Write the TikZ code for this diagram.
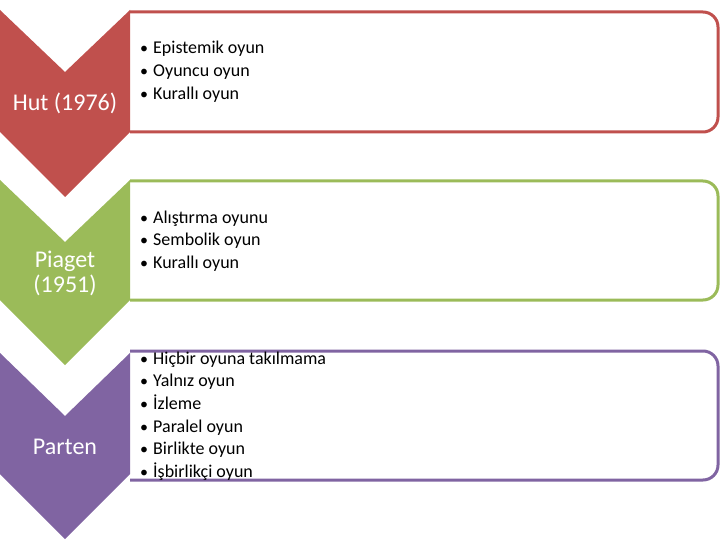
\documentclass[tikz,border=0pt]{standalone}
\usepackage{fontspec}
\setmainfont{Carlito}
\definecolor{cred}{HTML}{C0504D}
\definecolor{cgreen}{HTML}{9BBB59}
\definecolor{cpurple}{HTML}{8064A2}
\tikzset{
  listbox/.style={line width=3pt, fill=white, rounded corners=15pt},
  lbl/.style={anchor=base, inner sep=0pt, text=white, font=\fontsize{24}{25}\selectfont},
  item/.style={anchor=base west, inner sep=0pt, text=black, font=\fontsize{18}{22}\selectfont}
}
\newcommand{\bul}[1]{\makebox[13pt][l]{\fontsize{16}{16}\selectfont•}#1}
\begin{document}
\begin{tikzpicture}[x=1pt,y=-1pt]
\useasboundingbox (0,0) rectangle (720,540);
% boxes
\draw[listbox, draw=cred] (130,12) -- (718,12) -- (718,132) -- (130,132);
\draw[listbox, draw=cgreen] (130,181) -- (718,181) -- (718,300) -- (130,300);
\draw[listbox, draw=cpurple] (130,351) -- (718,351) -- (718,480) -- (130,480);
% chevrons
\fill[cred] (0,10) -- (65,72) -- (130,10) -- (130,132) -- (65,197) -- (0,132) -- cycle;
\fill[cgreen] (0,180) -- (65,242) -- (130,180) -- (130,300) -- (65,365) -- (0,300) -- cycle;
\fill[cpurple] (0,353) -- (65,416) -- (130,353) -- (130,474) -- (65,539) -- (0,474) -- cycle;
% labels
\node[lbl] (hut) at (65,111) {Hut (1976)};
\node[lbl] (piaget1) at (65,267.3) {Piaget};
\node[lbl] (piaget2) at (65,292.7) {(1951)};
\node[lbl] (parten) at (65,454.5) {Parten};
% items
\node[item] (r1) at (140,54) {\bul{Epistemik oyun}};
\node[item] (r2) at (140,76.7) {\bul{Oyuncu oyun}};
\node[item] (r3) at (140,99.4) {\bul{Kurallı oyun}};
\node[item] (g1) at (140,223) {\bul{Alıştırma oyunu}};
\node[item] (g2) at (140,245.7) {\bul{Sembolik oyun}};
\node[item] (g3) at (140,268.4) {\bul{Kurallı oyun}};
\node[item] (p1) at (140,364) {\bul{Hiçbir oyuna takılmama}};
\node[item] (p2) at (140,386.7) {\bul{Yalnız oyun}};
\node[item] (p3) at (140,409.4) {\bul{İzleme}};
\node[item] (p4) at (140,432.1) {\bul{Paralel oyun}};
\node[item] (p5) at (140,454.8) {\bul{Birlikte oyun}};
\node[item] (p6) at (140,477.5) {\bul{İşbirlikçi oyun}};
\end{tikzpicture}
\end{document}
